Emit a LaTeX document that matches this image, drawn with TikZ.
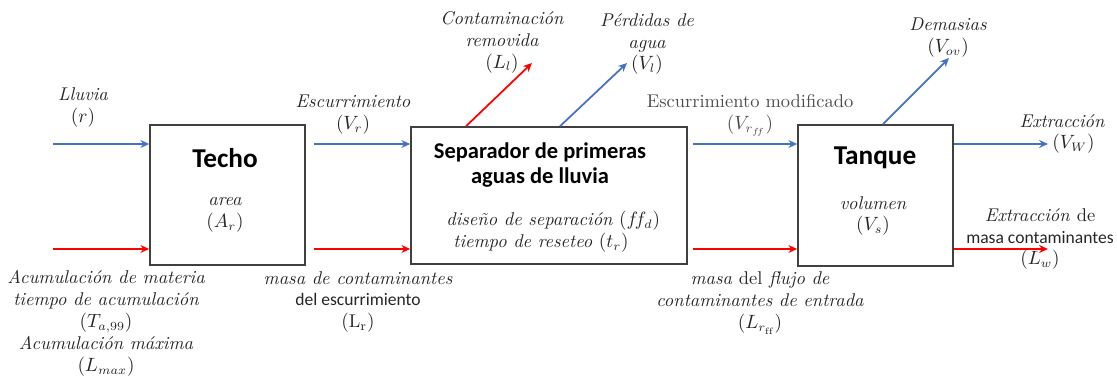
\documentclass[tikz,border=0pt]{standalone}
\usepackage{fontspec}
\setsansfont{Carlito}
\usetikzlibrary{arrows.meta}
\definecolor{flowblue}{RGB}{68,114,196}
\definecolor{flowred}{RGB}{255,0,0}

\begin{document}
\begin{tikzpicture}
  [x=0.02cm,y=-0.02cm,
   block/.style={draw=black!75,line width=0.9pt,minimum width=3.1cm,minimum height=2.8cm},
   wat/.style={-{Stealth[length=5pt,width=4.5pt]},line width=1pt,flowblue},
   mas/.style={-{Stealth[length=5pt,width=4.5pt]},line width=1pt,flowred},
   lbl/.style={align=center,inner sep=0pt,text=black!85,font=\itshape\fontsize{10.5}{12.5}\selectfont},
   title/.style={inner sep=0pt,font=\sffamily\bfseries\fontsize{15.5}{18}\selectfont},
   sans/.style={font=\sffamily\upshape\fontsize{10}{12.5}\selectfont}]
  \useasboundingbox (0,0) rectangle (1117,378);

  % the three blocks
  \node[block] (techo) at (227.5,195) {};
  \node[block,minimum width=5.52cm,minimum height=2.74cm] (sep) at (549,195.5) {};
  \node[block,minimum height=2.82cm] (tanque) at (875.5,195.5) {};

  \node[title] (techot) at (225,158) {Techo};
  \node[lbl] (area) at (225,215) {area\\$(A_r)$};
  \node[title,align=center,font=\sffamily\bfseries\fontsize{12.8}{14.7}\selectfont] (sept) at (540,165)
    {Separador de primeras\\aguas de lluvia};
  \node[lbl,align=left,anchor=west] (sepp) at (446,232)
    {dise\~no de separaci\'on $(f\!f_d)$\\\hspace{4pt}tiempo de reseteo $(t_r)$};
  \node[title] (tanquet) at (875,158) {Tanque};
  \node[lbl] (vol) at (873,216) {volumen\\$(V_s)$};

  % free ends
  \coordinate (lluviain) at (53,144);
  \coordinate (matin) at (53,249);
  \coordinate (llout) at (532,63);
  \coordinate (vlout) at (627,63);
  \coordinate (vovout) at (949,58);
  \coordinate (vwout) at (1048,144);
  \coordinate (lwout) at (1048,249);

  % flows
  \draw[wat] (lluviain) -- (lluviain -| techo.west);
  \draw[mas] (matin) -- (matin -| techo.west);
  \draw[wat,shorten <=0.16cm] (techo.east |- lluviain) -- (sep.west |- lluviain);
  \draw[mas,shorten <=0.16cm] (techo.east |- matin) -- (sep.west |- matin);
  \draw[wat,shorten <=0.1cm] (sep.east |- lluviain) -- (tanque.west |- lluviain);
  \draw[mas,shorten <=0.1cm] (sep.east |- matin) -- (tanque.west |- matin);
  \draw[wat] (tanque.east |- vwout) -- (vwout);
  \draw[mas] (tanque.east |- lwout) -- (lwout);
  \draw[mas] ([xshift=-1.66cm]sep.north) -- (llout);
  \draw[wat] ([xshift=0.22cm]sep.north) -- (vlout);
  \draw[wat] ([xshift=0.15cm]tanque.north) -- (vovout);

  % labels
  \node[lbl] (lluvia) at (83,107.5) {Lluvia\\$(r)$};
  \node[lbl] (esc) at (353,115) {Escurrimiento\\$(V_r)$};
  \node[lbl] (contam) at (502,42) {Contaminaci\'on\\removida\\$(L_l)$};
  \node[lbl] (perd) at (647,44) {P\'erdidas de\\agua\\$(V_l)$};
  \node[lbl,text=black!70,font=\upshape\fontsize{10.5}{12.5}\selectfont] (escmod) at (750,115)
    {Escurrimiento modificado\\$(V_{r_{f\!f}})$};
  \node[lbl] (demas) at (948,38) {Demasias\\$(V_{ov})$};
  \node[lbl] (extr) at (1062,121) {Extracci\'on};
  \node[lbl,anchor=west] (vw) at (1052,144) {$(V_W)$};
  \node[lbl] (extrm) at (1040,239)
    {Extracci\'on \textup{de}\\{\sffamily\upshape\fontsize{10}{12.5}\selectfont masa contaminantes}\\$(L_w)$};
  \node[lbl] (acum) at (106,323)
    {Acumulaci\'on de materia\\tiempo de acumulaci\'on\\$(T_{a,99})$\\Acumulaci\'on m\'axima\\$(L_{max})$};
  \node[lbl] (masr) at (358,302)
    {masa de contaminantes\\{\sffamily\upshape\fontsize{10}{12.5}\selectfont del escurrimiento}\\$(\mathrm{L_r})$};
  \node[lbl] (masff) at (760,303)
    {masa \textup{del} flujo de\\contaminantes de entrada\\$(L_{r_{\mathrm{ff}}})$};
\end{tikzpicture}
\end{document}
